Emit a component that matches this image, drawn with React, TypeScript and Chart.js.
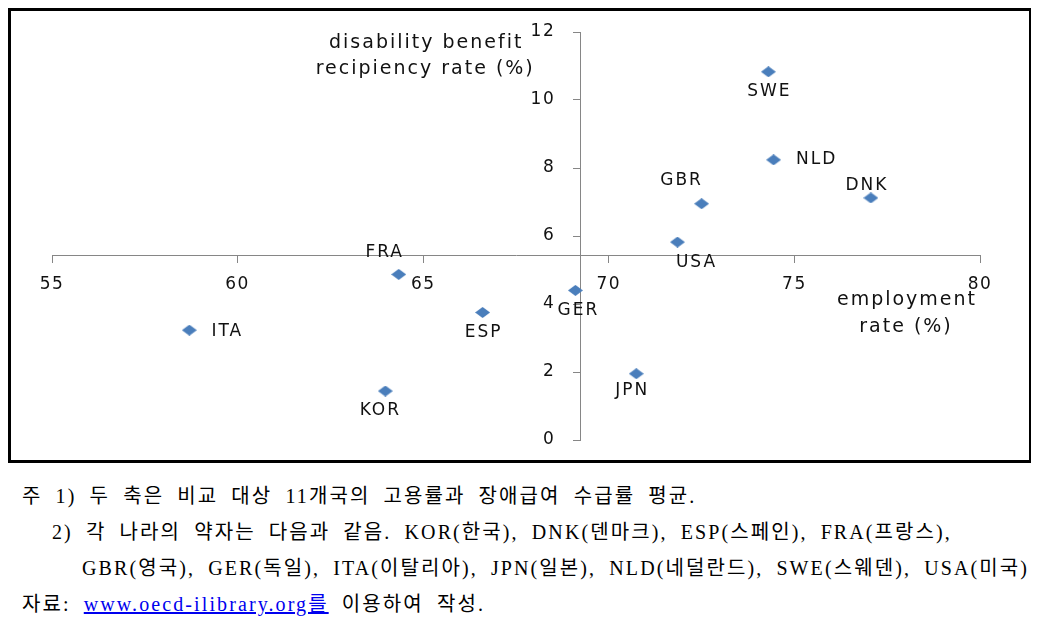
import React, { useEffect, useRef } from "react";
import { Chart, registerables } from "chart.js";

Chart.register(...registerables);

// ---- data ----
const countries = ["ITA", "KOR", "FRA", "ESP", "GER", "JPN", "USA", "GBR", "SWE", "NLD", "DNK"];
const employmentRate = [58.7, 63.98, 64.34, 66.6, 69.1, 70.74, 71.85, 72.5, 74.3, 74.44, 77.06];
const disabilityRate = [3.23, 1.44, 4.87, 3.75, 4.4, 1.95, 5.82, 6.95, 10.83, 8.24, 7.12];
const xTicks = [55, 60, 65, 70, 75, 80];
const yTicks = [0, 2, 4, 6, 8, 10, 12];
const avgEmployment = 69.23;
const avgDisability = 5.44;
const xTitle = ["employment", "rate (%)"];
const yTitle = ["disability benefit", "recipiency rate (%)"];
const noteLines = [
  "주 1) 두 축은 비교 대상 11개국의 고용률과 장애급여 수급률 평균.",
  "2) 각 나라의 약자는 다음과 같음. KOR(한국), DNK(덴마크), ESP(스페인), FRA(프랑스),",
  "GBR(영국), GER(독일), ITA(이탈리아), JPN(일본), NLD(네덜란드), SWE(스웨덴), USA(미국)",
];
const sourcePrefix = "자료: ";
const sourceLink = "www.oecd-ilibrary.org를";
const sourceSuffix = " 이용하여 작성.";

// ---- styles ----
const labelOffsets: Record<string, [number, number]> = {
  ITA: [38, 1], KOR: [-5, 20], FRA: [-14, -22], ESP: [1, 20], GER: [3, 20], JPN: [-4, 17],
  USA: [19, 20], GBR: [-20, -23], SWE: [1, 20], NLD: [43, 0], DNK: [-4, -12],
};
const POINT_COLOR = "#4A7EBB";
const AXIS_COLOR = "#868686";
const TEXT_COLOR = "#111";
const FONT = '"DejaVu Sans"';

function makeDiamond() {
  const c = document.createElement("canvas");
  c.width = 15;
  c.height = 11;
  const ctx = c.getContext("2d")!;
  ctx.fillStyle = POINT_COLOR;
  ctx.beginPath();
  ctx.moveTo(7.5, 0);
  ctx.lineTo(15, 5.5);
  ctx.lineTo(7.5, 11);
  ctx.lineTo(0, 5.5);
  ctx.closePath();
  ctx.fill();
  return c;
}

export default function App() {
  const ref = useRef<HTMLCanvasElement>(null);
  useEffect(() => {
    const canvas = ref.current!;
    const diamond = makeDiamond();
    const labelPlugin = {
      id: "pointLabels",
      beforeDraw(chart: any) {
        chart.ctx.letterSpacing = "1.5px";
      },
      afterDatasetsDraw(chart: any) {
        const ctx = chart.ctx;
        const meta = chart.getDatasetMeta(0);
        const xs = chart.scales.x;
        const ys = chart.scales.y;
        const yAxisX = xs.getPixelForValue(avgEmployment);
        ctx.save();
        ctx.fillStyle = TEXT_COLOR;
        // y tick labels
        ctx.font = `17px ${FONT}`;
        ctx.letterSpacing = "1.5px";
        ctx.textAlign = "right";
        ctx.textBaseline = "middle";
        yTicks.forEach((v) => {
          ctx.fillText(String(v), yAxisX - 25, ys.getPixelForValue(v));
        });
        // point labels
        ctx.textAlign = "center";
        ctx.font = `17px ${FONT}`;
        ctx.letterSpacing = "2px";
        meta.data.forEach((el: any, i: number) => {
          const [dx, dy] = labelOffsets[countries[i]];
          ctx.fillText(countries[i], el.x + dx, el.y + dy);
        });
        // axis titles
        ctx.font = `19px ${FONT}`;
        ctx.letterSpacing = "2px";
        const topY = ys.getPixelForValue(12);
        ctx.fillText(yTitle[0], yAxisX - 154, topY + 11);
        ctx.fillText(yTitle[1], yAxisX - 155, topY + 37);
        const xAxisY = ys.getPixelForValue(avgDisability);
        const rightX = xs.getPixelForValue(80);
        ctx.fillText(xTitle[0], rightX - 73, xAxisY + 45);
        ctx.fillText(xTitle[1], rightX - 74, xAxisY + 72);
        ctx.restore();
      },
    };
    const chart = new Chart(canvas, {
      type: "scatter",
      data: {
        datasets: [
          {
            data: employmentRate.map((x, i) => ({ x, y: disabilityRate[i] })),
            pointStyle: diamond as any,
            backgroundColor: POINT_COLOR,
            borderColor: POINT_COLOR,
          },
        ],
      },
      options: {
        animation: false,
        responsive: true,
        maintainAspectRatio: false,
        layout: { padding: { left: 41, right: 49, top: 21, bottom: 20 } },
        plugins: { legend: { display: false }, tooltip: { enabled: false } },
        scales: {
          x: {
            type: "linear",
            min: 55,
            max: 80,
            position: { y: avgDisability } as any,
            afterFit: (s: any) => {
              s.height = 0;
            },
            afterBuildTicks: (s: any) => {
              s.ticks = xTicks.map((v) => ({ value: v }));
            },
            grid: { drawOnChartArea: false, drawTicks: true, tickLength: 7, color: AXIS_COLOR },
            border: { color: AXIS_COLOR, width: 1 },
            ticks: { padding: 12, color: TEXT_COLOR, font: { size: 17, family: FONT }, maxRotation: 0 },
          },
          y: {
            type: "linear",
            min: 0,
            max: 12,
            position: { x: avgEmployment } as any,
            afterFit: (s: any) => {
              s.width = 0;
            },
            afterBuildTicks: (s: any) => {
              s.ticks = yTicks.map((v) => ({ value: v }));
            },
            grid: { drawOnChartArea: false, drawTicks: true, tickLength: 7, color: AXIS_COLOR },
            border: { color: AXIS_COLOR, width: 1 },
            ticks: { display: false },
          },
        },
      },
      plugins: [labelPlugin],
    });
    return () => chart.destroy();
  }, []);

  const noteStyle: React.CSSProperties = {
    fontFamily: '"Liberation Serif", "Noto Sans CJK KR", serif',
    fontSize: 20,
    letterSpacing: "2.1px",
    wordSpacing: "6px",
    lineHeight: "36px",
    color: "#000",
    whiteSpace: "nowrap",
  };
  return (
    <div>
      <div style={{ width: 1018, height: 449, border: "3px solid #000", position: "relative" }}>
        <canvas ref={ref} />
      </div>
      <div style={{ marginTop: 15 }}>
        <div style={{ ...noteStyle, paddingLeft: 14 }}>{noteLines[0]}</div>
        <div style={{ ...noteStyle, paddingLeft: 44 }}>{noteLines[1]}</div>
        <div style={{ ...noteStyle, paddingLeft: 74 }}>{noteLines[2]}</div>
        <div style={{ ...noteStyle, paddingLeft: 14 }}>
          {sourcePrefix}
          <span style={{ color: "#0000ee", textDecoration: "underline" }}>{sourceLink}</span>
          {sourceSuffix}
        </div>
      </div>
    </div>
  );
}
